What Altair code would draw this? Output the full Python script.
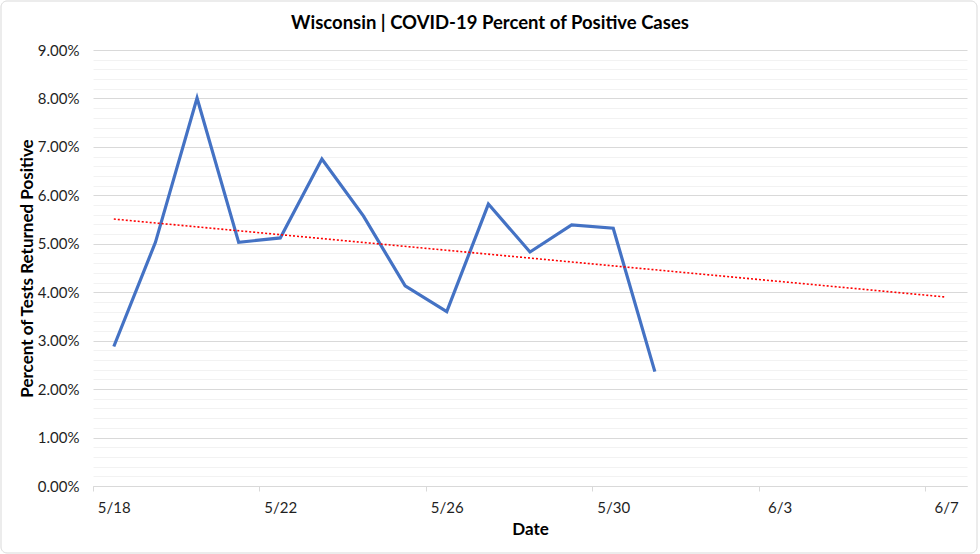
import altair as alt
import pandas as pd

# ---- data ----
dates = ["2020-05-18", "2020-05-19", "2020-05-20", "2020-05-21", "2020-05-22",
         "2020-05-23", "2020-05-24", "2020-05-25", "2020-05-26", "2020-05-27",
         "2020-05-28", "2020-05-29", "2020-05-30", "2020-05-31"]
pct_positive = [2.88, 5.03, 8.01, 5.03, 5.12, 6.75, 5.57, 4.13, 3.60, 5.82,
                4.83, 5.39, 5.32, 2.36]

trend_dates = ["2020-05-18", "2020-06-07"]
trend_pct = [5.51, 3.90]

x_label_dates = ["2020-05-18", "2020-05-22", "2020-05-26", "2020-05-30",
                 "2020-06-03", "2020-06-07"]
x_tick_dates = ["2020-05-17T12:00:00", "2020-05-21T12:00:00", "2020-05-25T12:00:00",
                "2020-05-29T12:00:00", "2020-06-02T12:00:00", "2020-06-06T12:00:00"]
x_domain = ["2020-05-17T12:00:00", "2020-06-07T12:00:00"]

y_major = [0.00, 0.01, 0.02, 0.03, 0.04, 0.05, 0.06, 0.07, 0.08, 0.09]
y_minor = [0.002, 0.004, 0.006, 0.008]

# ---- helpers ----
def ms(s):
    return int(pd.Timestamp(s, tz="UTC").value // 10**6)

minor_vals = [round(m + k, 4) for m in y_major[:-1] for k in y_minor]

df = pd.DataFrame({"date": dates, "pct": [p / 100 for p in pct_positive]})
tdf = pd.DataFrame({"date": trend_dates, "pct": [p / 100 for p in trend_pct]})

FONT = "Lato"
LABEL_COLOR = "#1f1f1f"

xscale = alt.Scale(type="utc", domain=[ms(d) for d in x_domain], nice=False)
yscale = alt.Scale(domain=[0, 0.09], nice=False, zero=True)

line = alt.Chart(df).mark_line(color="#4472C4", strokeWidth=3.2, strokeJoin="miter").encode(
    x=alt.X("date:T", scale=xscale,
            axis=alt.Axis(orient="bottom", values=[ms(d) for d in x_tick_dates],
                          labels=False, ticks=True, tickSize=5, tickColor="#d9d9d9",
                          domain=True, domainColor="#d9d9d9", domainWidth=1,
                          grid=False, title=None)),
    y=alt.Y("pct:Q", scale=yscale,
            axis=alt.Axis(orient="left", values=y_major, format=".2%",
                          labelFont=FONT, labelFontSize=15, labelColor=LABEL_COLOR,
                          labelPadding=14, ticks=False, domain=False,
                          grid=True, gridColor="#d9d9d9", gridWidth=1,
                          title="Percent of Tests Returned Positive",
                          titleFont=FONT, titleFontSize=17, titleFontWeight="bold",
                          titleColor="#000000", titleAngle=-90,
                          titleX=-66, titleY=218, titleAlign="center",
                          titleBaseline="middle")),
)

trend = alt.Chart(tdf).mark_line(color="#FF0000", strokeWidth=1.6,
                                 strokeDash=[2, 2]).encode(
    x=alt.X("date:T", scale=xscale,
            axis=alt.Axis(orient="bottom", values=[ms(d) for d in x_label_dates],
                          labelExpr="utcFormat(datum.value, '%-m/%-d')",
                          labelFont=FONT, labelFontSize=15, labelColor=LABEL_COLOR,
                          labelPadding=14, ticks=False, tickSize=0, domain=False,
                          grid=False, labelFlush=False, labelOverlap=False,
                          title="Date", titleFont=FONT, titleFontSize=17,
                          titleFontWeight="bold", titleColor="#000000",
                          titleY=43, titleBaseline="middle")),
    y=alt.Y("pct:Q", scale=yscale,
            axis=alt.Axis(orient="left", values=minor_vals, labels=False,
                          ticks=False, domain=False, grid=True,
                          gridColor="#f2f2f2", gridWidth=1, title=None)),
)

border = alt.Chart(pd.DataFrame({"k": [0]})).mark_rect(
    fill=None, stroke="#d9d9d9", strokeWidth=1, cornerRadius=6
).encode(x=alt.value(-92), x2=alt.value(884), y=alt.value(-49), y2=alt.value(503))

chart = alt.layer(border, line, trend).resolve_axis(
    x="independent", y="independent"
).properties(
    width=874, height=436,
    title=alt.TitleParams("Wisconsin | COVID-19 Percent of Positive Cases",
                          font=FONT, fontSize=18.5, fontWeight="bold", color="#000000",
                          anchor="middle", dx=-40, offset=-41, baseline="middle"),
    autosize=alt.AutoSizeParams(type="none"),
    padding={"left": 93, "top": 50, "right": 13, "bottom": 68},
    background="#ffffff",
).configure_view(stroke=None)

chart.save("out.html", embed_options={"renderer": "svg", "actions": False})
